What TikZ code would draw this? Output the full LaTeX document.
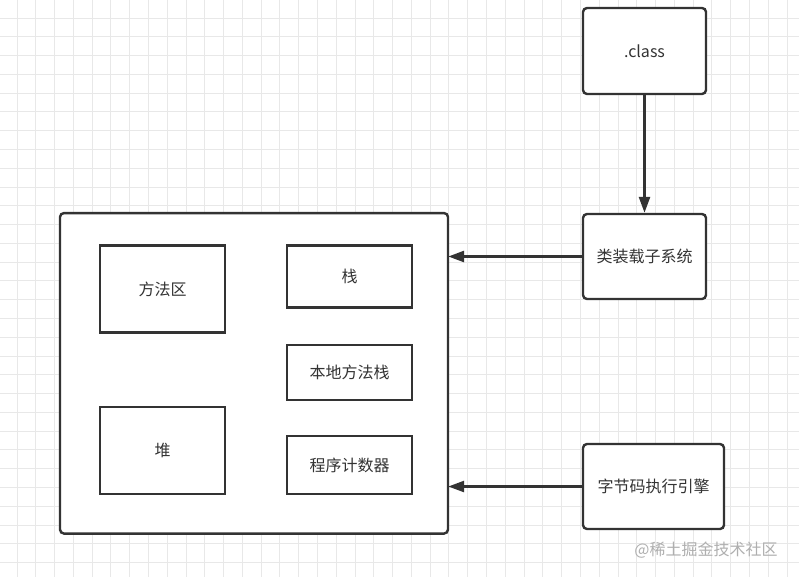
\documentclass[tikz,border=0pt]{standalone}
\usepackage{fontspec}
\setmainfont{Noto Sans CJK SC}
\usetikzlibrary{positioning}
\usetikzlibrary{arrows.meta}
\definecolor{ink}{RGB}{51,51,51}
\definecolor{gridgray}{RGB}{232,232,232}
\definecolor{markgray}{RGB}{175,175,175}

\begin{document}
\begin{tikzpicture}[x=1pt, y=-1pt,
    gridline/.style={gridgray, line width=0.9pt},
    roundbox/.style={draw=ink, line width=2.4pt, rounded corners=4pt, fill=white,
        text=ink, font=\fontsize{16}{18}\selectfont, inner sep=0pt},
    areabox/.style={draw=ink, line width=2.4pt, fill=white,
        text=ink, font=\fontsize{16}{18}\selectfont, inner sep=0pt, minimum width=125pt},
    flow/.style={draw=ink, line width=2.6pt, -{Triangle[length=16pt, width=11pt]}}]
    \useasboundingbox (0,0) rectangle (799,577);
    \fill[white] (0,0) rectangle (799,577);

    % background grid
    \foreach \k in {0,...,41}
        \draw[gridline] ({17+18.78*\k},0) -- ++(0,577);
    \foreach \k in {0,...,29}
        \draw[gridline] (0,{18+18.78*\k}) -- ++(799,0);

    % outer boxes
    \node[roundbox, minimum width=123pt, minimum height=86pt] (classfile) at (644.5,51) {.class};
    \node[roundbox, minimum width=123pt, minimum height=85pt] (loader) at (644.5,256.5) {类装载子系统};
    \node[roundbox, minimum width=141pt, minimum height=85pt] (engine) at (653.5,486.5) {字节码执行引擎};
    \node[roundbox, minimum width=388pt, minimum height=320.5pt] (jvm) at (254,373.3) {};

    % runtime data areas
    \node[areabox, minimum height=87pt] (methodarea) at (162.5,289) {方法区};
    \node[areabox, minimum height=62pt] (stack) at (349.5,276.5) {栈};
    \node[areabox, minimum height=55pt] (nativestack) at (349.5,372.7) {本地方法栈};
    \node[areabox, minimum height=87pt] (heap) at (162.5,450.3) {堆};
    \node[areabox, minimum height=58pt] (pc) at (349.5,465) {程序计数器};

    \draw[flow] (classfile.south) -- (loader.north);
    \draw[flow, shorten >=-1pt] (loader.west) -- (loader.west -| jvm.east);
    \draw[flow, shorten >=-1pt] (engine.west) -- (engine.west -| jvm.east);

    \node[markgray, font=\fontsize{16}{18}\selectfont] (watermark) at (706,550) {@稀土掘金技术社区};
\end{tikzpicture}
\end{document}
